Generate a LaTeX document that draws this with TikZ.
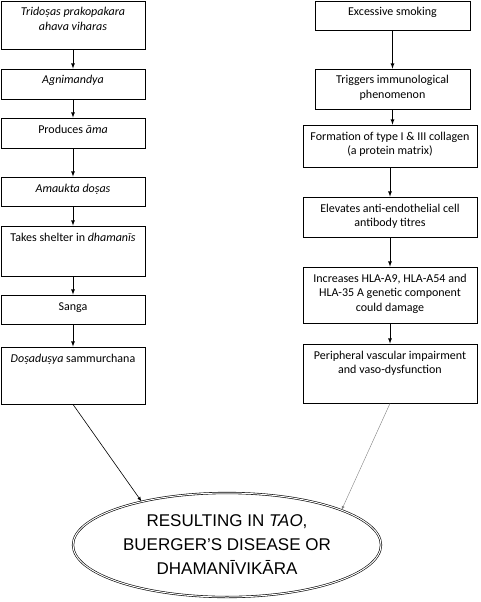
\documentclass[tikz,border=0pt]{standalone}
\usepackage{fontspec}
\setmainfont{Carlito}
\newfontfamily\arialfont{Liberation Sans}
\usetikzlibrary{shapes.geometric}
\newcommand{\boxtxt}[3]{\parbox[c][#2pt][t]{#1pt}{\centering\rule{0pt}{15pt}#3}}

\begin{document}
\begin{tikzpicture}[x=1pt,y=-1pt,
  stage/.style={draw, line width=0.8pt, inner sep=0pt, font=\fontsize{12}{14.6}\selectfont},
  arr/.style={line width=0.8pt, ->, >=latex}]
\useasboundingbox (0,0) rectangle (480,602);
% left column
\node [stage] (l1) at (73,25) {\boxtxt{144}{48}{\textit{Tridoṣas prakopakara}\\\textit{ahava viharas}}};
\node [stage] (l2) at (73,84) {\boxtxt{144}{30}{\textit{Agnimandya}}};
\node [stage] (l3) at (73,133) {\boxtxt{144}{30}{Produces \textit{āma}}};
\node [stage] (l4) at (73,191.5) {\boxtxt{144}{29}{\textit{Amaukta doṣas}}};
\node [stage] (l5) at (73,251) {\boxtxt{144}{50}{Takes shelter in \textit{dhamanīs}}};
\node [stage] (l6) at (73,309.5) {\boxtxt{144}{29}{Sanga}};
\node [stage] (l7) at (73,375.5) {\boxtxt{144}{57}{\textit{Doṣaduṣya} sammurchana}};
% right column
\node [stage] (r1) at (392.5,15.5) {\boxtxt{155}{29}{Excessive smoking}};
\node [stage] (r2) at (392.5,89) {\boxtxt{155}{40}{Triggers immunological\\phenomenon}};
\node [stage] (r3) at (390,146) {\boxtxt{174}{42}{Formation of type I \& III collagen\\(a protein matrix)}};
\node [stage] (r4) at (390,217) {\boxtxt{174}{40}{Elevates anti-endothelial cell\\antibody titres}};
\node [stage] (r5) at (390,295) {\boxtxt{174}{56}{Increases HLA-A9, HLA-A54 and\\HLA-35 A genetic component\\could damage}};
\node [stage] (r6) at (390,373.5) {\boxtxt{174}{59}{Peripheral vascular impairment\\and vaso-dysfunction}};
% outcome
\node [ellipse, draw, line width=0.6pt, double, double distance=1pt, minimum width=308, minimum height=104,
  inner sep=0pt, align=center, font=\arialfont\fontsize{17}{24}\selectfont] (tao) at (227,545)
  {RESULTING IN \textit{TAO},\\BUERGER’S DISEASE OR\\DHAMANĪVIKĀRA};
% arrows
\foreach \a/\b in {l1/l2,l2/l3,l3/l4,l4/l5,l5/l6,l6/l7}
  \draw [arr] (\a) -- (\b);
\foreach \a/\b in {r1/r2,r2/r3,r3/r4,r4/r5,r5/r6}
  \draw [arr] (\a.south) -- (\a.south |- \b.north);
\draw [line width=0.6pt, ->, >=latex] (l7.south) -- (tao.153);
\draw [gray, line width=0.4pt, ->, >=latex] (r6.south) -- (tao.17);
\end{tikzpicture}
\end{document}
